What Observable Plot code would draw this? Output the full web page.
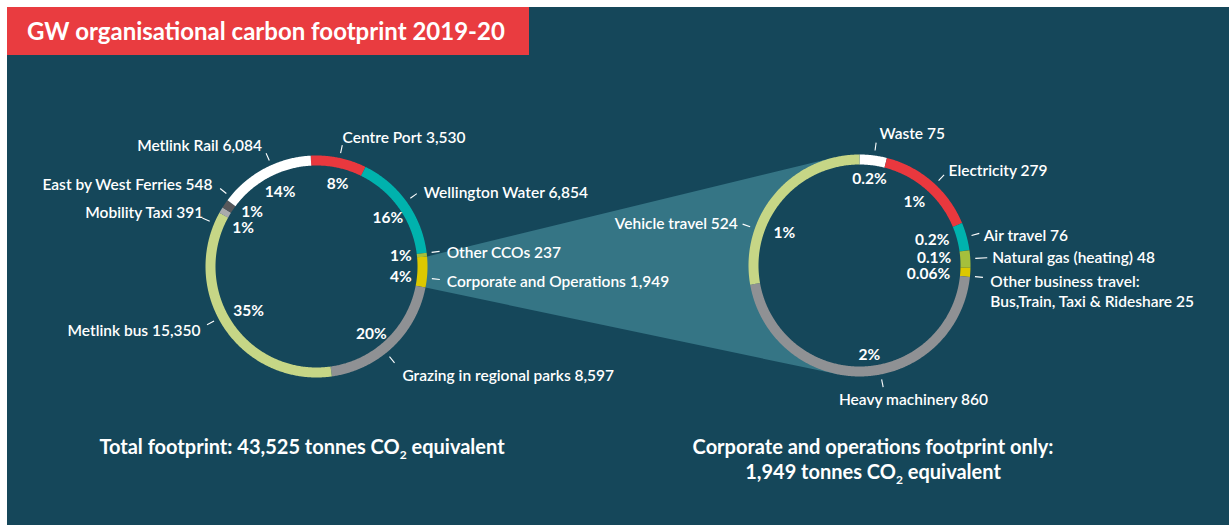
<!DOCTYPE html>
<html><head><meta charset="utf-8">
<script src="https://cdn.jsdelivr.net/npm/d3@7"></script>
<script src="https://cdn.jsdelivr.net/npm/@observablehq/plot@0.6"></script>
<style>
body{margin:0;background:#fff;width:1229px;height:527px;position:relative;overflow:hidden;font-family:Lato,"Noto Sans",sans-serif}
#panel{position:absolute;left:7px;top:7px;width:1222px;height:518px;background:#15475a}
#title{position:absolute;left:7px;top:7px;width:522px;height:48px;background:#e93c40;color:#fff;font-weight:700;font-size:24px;line-height:48px;padding-left:20px;box-sizing:border-box;white-space:nowrap}
#chart{position:absolute;left:0;top:0}
.cap{position:absolute;color:#fff;font-weight:700;font-size:20px;text-align:center;line-height:25px;white-space:nowrap}
.cap sub{font-size:12px;vertical-align:-5px;line-height:0}
</style></head><body>
<div id="panel"></div>
<div id="chart"></div>
<div id="title">GW organisational carbon footprint 2019-20</div>
<div class="cap" style="left:52px;top:434px;width:500px">Total footprint: 43,525 tonnes CO<sub>2</sub> equivalent</div>
<div class="cap" style="left:623px;top:434px;width:500px">Corporate and operations footprint only:<br>1,949 tonnes CO<sub>2</sub> equivalent</div>
<script>
// ---------- data ----------
const totalCategories = ["Centre Port","Wellington Water","Other CCOs","Corporate and Operations","Grazing in regional parks","Metlink bus","Mobility Taxi","East by West Ferries","Metlink Rail"];
const totalValues = [3530,6854,237,1949,8597,15350,391,548,6084];
const totalPercents = ["8%","16%","1%","4%","20%","35%","1%","1%","14%"];

const corpCategories = ["Waste","Electricity","Air travel","Natural gas (heating)","Other business travel:\nBus,Train, Taxi & Rideshare","Heavy machinery","Vehicle travel"];
const corpValues = [75,279,76,48,25,860,524];
const corpPercents = ["0.2%","1%","0.2%","0.1%","0.06%","2%","1%"];

// ---------- styles / layout ----------
const W = 1229, H = 527;
const totalColors = ["#e9383e","#00b2ad","#a5bf3c","#dcc800","#8f9194","#c6d686","#a9aaac","#58585b","#ffffff"];
const corpColors  = ["#ffffff","#e9383e","#00b2ad","#a5bf3c","#dcc800","#8f9194","#c6d686"];
const fs = 15.5;

const leftDonut  = {cx:316, cy:266, r:106, w:10, rot:-3};
const rightDonut = {cx:859, cy:265, r:106, w:10, rot:0};

// angles in degrees clockwise from 12 o'clock
const leftLayout = [
  {tick:12,  label:11.3,  lr:133, anchor:"start", pct:14.4, pr:85},
  {tick:54,  label:55,    lr:131, anchor:"start", pct:56,   pr:86},
  {tick:83,  label:83.4,  lr:131, anchor:"start", pct:83,   pr:85},
  {tick:96,  label:96,    lr:131, anchor:"start", pct:97,   pr:85},
  {tick:141, label:141.5, lr:138, anchor:"start", pct:141,  pr:87},
  {tick:242, label:241.5, lr:132, anchor:"end",   pct:237,  pr:81},
  {tick:293, label:296,   lr:126, anchor:"end",   pct:298,  pr:83},
  {tick:309, label:308.6, lr:133, anchor:"end",   pct:310,  pr:84},
  {tick:336, label:336,   lr:134, anchor:"end",   pct:334,  pr:83}
];
const rightLayout = [
  {tick:7.7,   label:8.5,  lr:134.5, anchor:"start", pct:6.6,   pr:86.6},
  {tick:43,    label:42.8, lr:131,   anchor:"start", pct:40.7,  pr:84},
  {tick:75,    label:76,   lr:128,   anchor:"start", pct:71,    pr:77},
  {tick:86.5,  label:86,   lr:133,   anchor:"start", pct:84,    pr:75, tickOut:128},
  {tick:95.5,  label:93,   lr:131,   anchor:"start", pct:97.4,  pr:69.6, line:"top"},
  {tick:169,   label:158,  lr:144,   anchor:"middle",pct:173.7, pr:90.5},
  {tick:289.5, label:289.4,lr:129,   anchor:"end",   pct:293.7, pr:82}
];

const rad = a => a * Math.PI / 180;
const polar = (c, a, r) => ({x: c.cx + r * Math.sin(rad(a)), y: c.cy - r * Math.cos(rad(a))});

function slices(values, colors, c) {
  const total = d3.sum(values);
  let acc = 0;
  return values.map((v, i) => {
    const a0 = acc / total * 360 + c.rot;
    acc += v;
    const a1 = acc / total * 360 + c.rot;
    return {i, a0, a1, color: colors[i]};
  });
}
function ringPoints(sl, c, key) {
  const pts = [];
  for (const s of sl) {
    const n = Math.max(2, Math.ceil((s.a1 - s.a0) / 0.5));
    for (let k = 0; k <= n; k++) {
      const a = s.a0 + (s.a1 - s.a0) * k / n;
      const p = polar(c, a, c.r);
      pts.push({...p, z: key + s.i, color: s.color});
    }
  }
  return pts;
}

const leftSlices = slices(totalValues, totalColors, leftDonut);
const rightSlices = slices(corpValues, corpColors, rightDonut);

// wedge from Corporate and Operations slice to the tangents of the right donut
const corpIdx = totalCategories.indexOf("Corporate and Operations");
const outerL = leftDonut.r + leftDonut.w / 2;
const outerR = rightDonut.r + rightDonut.w / 2;
const P1 = polar(leftDonut, leftSlices[corpIdx].a0, outerL);
const P2 = polar(leftDonut, leftSlices[corpIdx].a1, outerL);
function tangent(P, c, R, sign) {
  const dx = c.cx - P.x, dy = c.cy - P.y;
  const d = Math.hypot(dx, dy);
  const dir = Math.atan2(dy, dx) + sign * Math.asin(R / d);
  const L = Math.sqrt(d * d - R * R);
  return {x: P.x + L * Math.cos(dir), y: P.y + L * Math.sin(dir)};
}
const T1 = tangent(P1, rightDonut, outerR, -1);
const T2 = tangent(P2, rightDonut, outerR, 1);
const compass = (c, p) => { let a = Math.atan2(p.x - c.cx, -(p.y - c.cy)) * 180 / Math.PI; return a < 0 ? a + 360 : a; };
const th1 = compass(rightDonut, T1), th2 = compass(rightDonut, T2);
const wedge = [P1, T1];
for (let a = th1; a >= th2; a -= 1) wedge.push(polar(rightDonut, a, outerR - 2));
wedge.push(T2, P2);

// labels
function labelData(cats, vals, pcts, layout, c) {
  return cats.map((name, i) => {
    const L = layout[i];
    const t1 = polar(c, L.tick, 116), t2 = polar(c, L.tick, L.tickOut || 124);
    const lp = polar(c, L.label, L.lr);
    const pp = polar(c, L.pct, L.pr);
    return {name, text: name + " " + d3.format(",")(vals[i]), pct: pcts[i],
      tx1: t1.x, ty1: t1.y, tx2: t2.x, ty2: t2.y, lx: lp.x, ly: lp.y, px: pp.x, py: pp.y,
      anchor: L.anchor, line: L.line || "middle"};
  });
}
const labels = [
  ...labelData(totalCategories, totalValues, totalPercents, leftLayout, leftDonut),
  ...labelData(corpCategories, corpValues, corpPercents, rightLayout, rightDonut)
];

const marks = [
  Plot.line(wedge, {x: "x", y: "y", fill: "#357585", stroke: "none", curve: "linear"}),
  Plot.line(ringPoints(leftSlices, leftDonut, "L"), {x: "x", y: "y", z: "z", stroke: "color", strokeWidth: 10, strokeLinecap: "butt", strokeLinejoin: "round"}),
  Plot.line(ringPoints(rightSlices, rightDonut, "R"), {x: "x", y: "y", z: "z", stroke: "color", strokeWidth: 10, strokeLinecap: "butt", strokeLinejoin: "round"}),
  Plot.link(labels, {x1: "tx1", y1: "ty1", x2: "tx2", y2: "ty2", stroke: "#ffffff", strokeWidth: 1.1}),
  Plot.text(labels, {x: "px", y: "py", text: "pct", fill: "#fff", fontSize: fs, fontWeight: 700, fontFamily: "Lato", textAnchor: "middle"})
];
for (const d of labels) {
  marks.push(Plot.text([d], {x: "lx", y: "ly", text: "text", fill: "#fff", fontSize: fs, fontWeight: 600,
    fontFamily: "Lato", textAnchor: d.anchor, lineAnchor: d.line, lineHeight: 1.3}));
}

const chart = Plot.plot({
  width: W, height: H, margin: 0,
  x: {domain: [0, W], range: [0, W], axis: null},
  y: {domain: [0, H], range: [0, H], axis: null},
  style: {background: "transparent", overflow: "visible"},
  marks
});
document.getElementById("chart").appendChild(chart);
</script>
</body></html>
